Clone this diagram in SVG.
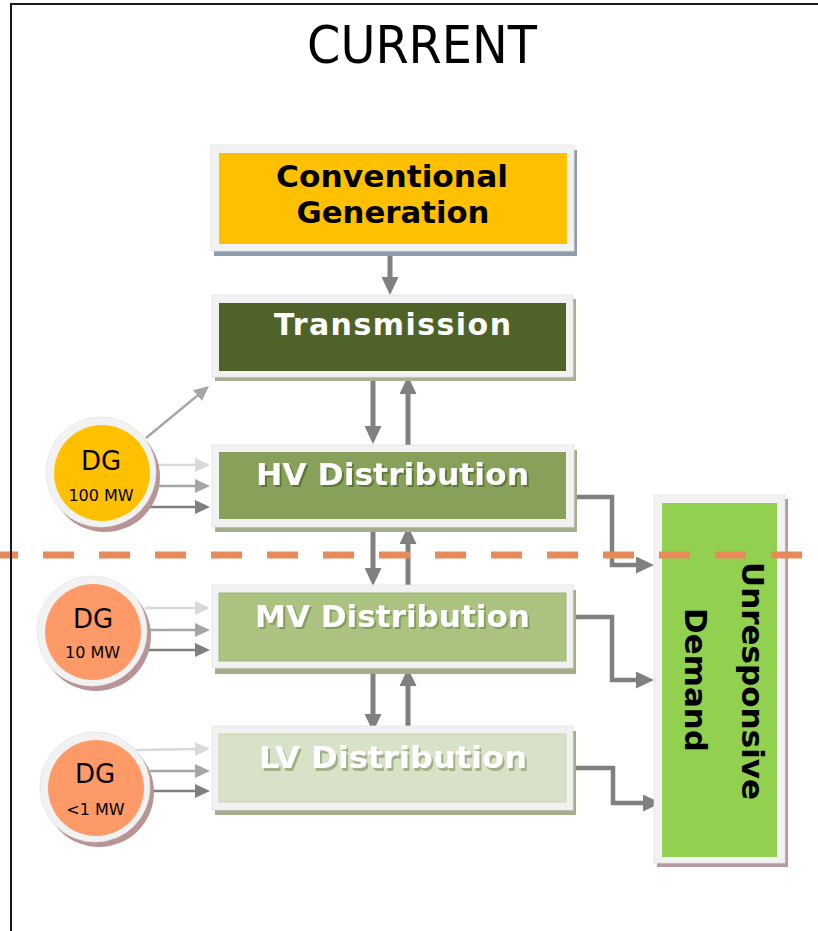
<svg xmlns="http://www.w3.org/2000/svg" width="818" height="931" viewBox="0 0 818 931">
  <style>
    .frame { fill: #f2f2f2; stroke: #e2e2e2; stroke-width: 0.8; }
    .lbl { font-family: "DejaVu Sans", Verdana, sans-serif; font-weight: bold; font-size: 30px; text-anchor: middle; }
    .dg { font-family: "DejaVu Sans", Verdana, sans-serif; text-anchor: middle; fill: #000; }
    .thin { fill: none; stroke-width: 2.5; }
    .thick { fill: none; stroke: #808080; stroke-width: 5; }
    .elbow { fill: none; stroke: #808080; stroke-width: 4.5; }
  </style>
  <defs>
    <marker id="headLight" markerUnits="userSpaceOnUse" markerWidth="15" markerHeight="14" refX="5" refY="7" orient="auto">
      <path d="M0,0 L15,7 L0,14 z" fill="#d9d9d9"/>
    </marker>
    <marker id="headMid" markerUnits="userSpaceOnUse" markerWidth="15" markerHeight="14" refX="5" refY="7" orient="auto">
      <path d="M0,0 L15,7 L0,14 z" fill="#a6a6a6"/>
    </marker>
    <marker id="headDark" markerUnits="userSpaceOnUse" markerWidth="15" markerHeight="14" refX="5" refY="7" orient="auto">
      <path d="M0,0 L15,7 L0,14 z" fill="#7f7f7f"/>
    </marker>
    <marker id="headThick" markerUnits="userSpaceOnUse" markerWidth="18" markerHeight="17" refX="6" refY="8.5" orient="auto">
      <path d="M0,0 L18,8.5 L0,17 z" fill="#808080"/>
    </marker>
    <!-- embossed label shadows -->
    <filter id="shadowHV" x="-5%" y="-20%" width="110%" height="140%">
      <feGaussianBlur in="SourceAlpha" stdDeviation="0.6"/>
      <feOffset dx="2" dy="2" result="o"/>
      <feFlood flood-color="#5e7733"/>
      <feComposite in2="o" operator="in"/>
      <feMerge><feMergeNode/><feMergeNode in="SourceGraphic"/></feMerge>
    </filter>
    <filter id="shadowMV" x="-5%" y="-20%" width="110%" height="140%">
      <feGaussianBlur in="SourceAlpha" stdDeviation="0.6"/>
      <feOffset dx="2" dy="2" result="o"/>
      <feFlood flood-color="#879d5c"/>
      <feComposite in2="o" operator="in"/>
      <feMerge><feMergeNode/><feMergeNode in="SourceGraphic"/></feMerge>
    </filter>
    <filter id="shadowLV" x="-5%" y="-20%" width="110%" height="140%">
      <feGaussianBlur in="SourceAlpha" stdDeviation="0.6"/>
      <feOffset dx="2" dy="2.5" result="o"/>
      <feFlood flood-color="#a3b187"/>
      <feComposite in2="o" operator="in"/>
      <feMerge><feMergeNode/><feMergeNode in="SourceGraphic"/></feMerge>
    </filter>
  </defs>

  <rect width="818" height="931" fill="#ffffff"/>

  <text x="422" y="63" font-family="'DejaVu Sans Condensed', 'DejaVu Sans', sans-serif" font-size="51" text-anchor="middle" textLength="230" lengthAdjust="spacingAndGlyphs" fill="#000">CURRENT</text>

  <!-- power flow connectors -->
  <g id="connectors">
    <line class="thick" x1="390" y1="255" x2="390" y2="283" marker-end="url(#headThick)"/>
    <line class="thick" x1="373" y1="377" x2="373" y2="432" marker-end="url(#headThick)"/>
    <line class="thick" x1="408" y1="447" x2="408" y2="388" marker-end="url(#headThick)"/>
    <line class="thick" x1="373" y1="528" x2="373" y2="574" marker-end="url(#headThick)"/>
    <line class="thick" x1="408" y1="590" x2="408" y2="538" marker-end="url(#headThick)"/>
    <line class="thick" x1="373" y1="668" x2="373" y2="720" marker-end="url(#headThick)"/>
    <line class="thick" x1="408" y1="737" x2="408" y2="680" marker-end="url(#headThick)"/>

    <path class="elbow" d="M570,497 H612 V565 H642" marker-end="url(#headThick)"/>
    <path class="elbow" d="M570,617 H612 V680 H642" marker-end="url(#headThick)"/>
    <path class="elbow" d="M570,768 H613 V803 H649" marker-end="url(#headThick)"/>

    <line class="thin" stroke="#a6a6a6" x1="146" y1="438" x2="201.3" y2="392.4" marker-end="url(#headMid)"/>
    <line class="thin" stroke="#d9d9d9" x1="158" y1="465" x2="200" y2="465" marker-end="url(#headLight)"/>
    <line class="thin" stroke="#a6a6a6" x1="158" y1="486" x2="200" y2="486" marker-end="url(#headMid)"/>
    <line class="thin" stroke="#7f7f7f" x1="147" y1="507" x2="200" y2="507" marker-end="url(#headDark)"/>

    <line class="thin" stroke="#d9d9d9" x1="145" y1="608" x2="200" y2="608" marker-end="url(#headLight)"/>
    <line class="thin" stroke="#a6a6a6" x1="150" y1="630" x2="200" y2="630" marker-end="url(#headMid)"/>
    <line class="thin" stroke="#7f7f7f" x1="147" y1="650" x2="200" y2="650" marker-end="url(#headDark)"/>

    <line class="thin" stroke="#d9d9d9" x1="135" y1="750" x2="200" y2="749" marker-end="url(#headLight)"/>
    <line class="thin" stroke="#a6a6a6" x1="150" y1="771" x2="200" y2="771" marker-end="url(#headMid)"/>
    <line class="thin" stroke="#7f7f7f" x1="153" y1="791" x2="200" y2="791" marker-end="url(#headDark)"/>
  </g>

  <g id="conventional-generation">
    <rect x="214" y="150" width="363" height="106" fill="#8e9bab"/>
    <rect class="frame" x="211" y="145" width="363" height="106"/>
    <rect x="219" y="153" width="348" height="91" fill="#ffc000"/>
    <text class="lbl" x="392" y="187" textLength="232" lengthAdjust="spacingAndGlyphs" fill="#000">Conventional</text>
    <text class="lbl" x="393" y="223" textLength="193" lengthAdjust="spacingAndGlyphs" fill="#000">Generation</text>
  </g>

  <g id="transmission">
    <rect x="215" y="299" width="361" height="82" fill="#a8b08f"/>
    <rect class="frame" x="212" y="295" width="361" height="82"/>
    <rect x="219" y="303" width="347" height="68" fill="#4f6228"/>
    <text class="lbl" x="392.5" y="335" font-size="28" textLength="237" fill="#ffffff">Transmission</text>
  </g>

  <g id="hv-distribution">
    <rect x="215" y="450" width="362" height="82" fill="#a5ae8a"/>
    <rect class="frame" x="212" y="445" width="362" height="82"/>
    <rect x="219" y="452" width="347" height="67" fill="#87a05a"/>
    <text class="lbl" x="392.5" y="485" textLength="273" lengthAdjust="spacingAndGlyphs" fill="#ffffff" filter="url(#shadowHV)">HV Distribution</text>
  </g>

  <g id="mv-distribution">
    <rect x="215" y="590" width="361" height="84" fill="#a5ae8a"/>
    <rect class="frame" x="212" y="585" width="361" height="83"/>
    <rect x="219" y="593" width="347" height="68" fill="#abc281" stroke="#9fb677" stroke-width="1"/>
    <text class="lbl" x="392.5" y="627" textLength="275" lengthAdjust="spacingAndGlyphs" fill="#ffffff" filter="url(#shadowMV)">MV Distribution</text>
  </g>

  <g id="lv-distribution">
    <rect x="215" y="731" width="361" height="84" fill="#a5ae8a"/>
    <rect class="frame" x="212" y="726" width="361" height="84"/>
    <rect x="219" y="734" width="347" height="68" fill="#d8e2c8" stroke="#c9d5b5" stroke-width="1"/>
    <text class="lbl" x="393" y="768" textLength="268" lengthAdjust="spacingAndGlyphs" fill="#ffffff" filter="url(#shadowLV)">LV Distribution</text>
  </g>

  <g id="unresponsive-demand">
    <rect x="657" y="499" width="131" height="368" fill="#b59c9c"/>
    <rect class="frame" x="654" y="495" width="131" height="368"/>
    <rect x="662" y="503" width="115" height="354" fill="#92d050"/>
    <text class="lbl" transform="translate(742,681) rotate(90)" textLength="238" lengthAdjust="spacingAndGlyphs" fill="#000">Unresponsive</text>
    <text class="lbl" transform="translate(685,680) rotate(90)" textLength="144" lengthAdjust="spacingAndGlyphs" fill="#000">Demand</text>
  </g>

  <g id="dg-100mw">
    <circle cx="105" cy="477" r="55" fill="#b99494"/>
    <circle cx="101" cy="472" r="55" fill="#f2f2f2" stroke="#e4e4e4" stroke-width="0.8"/>
    <circle cx="102" cy="473" r="48" fill="#ffc000"/>
    <text class="dg" x="101" y="470" font-size="26">DG</text>
    <text class="dg" x="101" y="501" font-size="16">100 MW</text>
  </g>

  <g id="dg-10mw">
    <circle cx="96" cy="636" r="55" fill="#b99494"/>
    <circle cx="92" cy="631" r="55" fill="#f2f2f2" stroke="#e4e4e4" stroke-width="0.8"/>
    <circle cx="93" cy="632" r="48" fill="#fd9a67"/>
    <text class="dg" x="93" y="628" font-size="26">DG</text>
    <text class="dg" x="92.5" y="658" font-size="16">10 MW</text>
  </g>

  <g id="dg-1mw">
    <circle cx="99" cy="792" r="55" fill="#b99494"/>
    <circle cx="95" cy="787" r="55" fill="#f2f2f2" stroke="#e4e4e4" stroke-width="0.8"/>
    <circle cx="96" cy="788" r="48" fill="#fd9a67"/>
    <text class="dg" x="95" y="783" font-size="26">DG</text>
    <text class="dg" x="95.5" y="815" font-size="16">&lt;1 MW</text>
  </g>

  <!-- HV / MV boundary -->
  <line x1="-13" y1="555" x2="818" y2="555" stroke="#e8895a" stroke-width="7" stroke-dasharray="31 25"/>

  <path d="M11,931 V4 H818" fill="none" stroke="#1a1a1a" stroke-width="2"/>
</svg>
